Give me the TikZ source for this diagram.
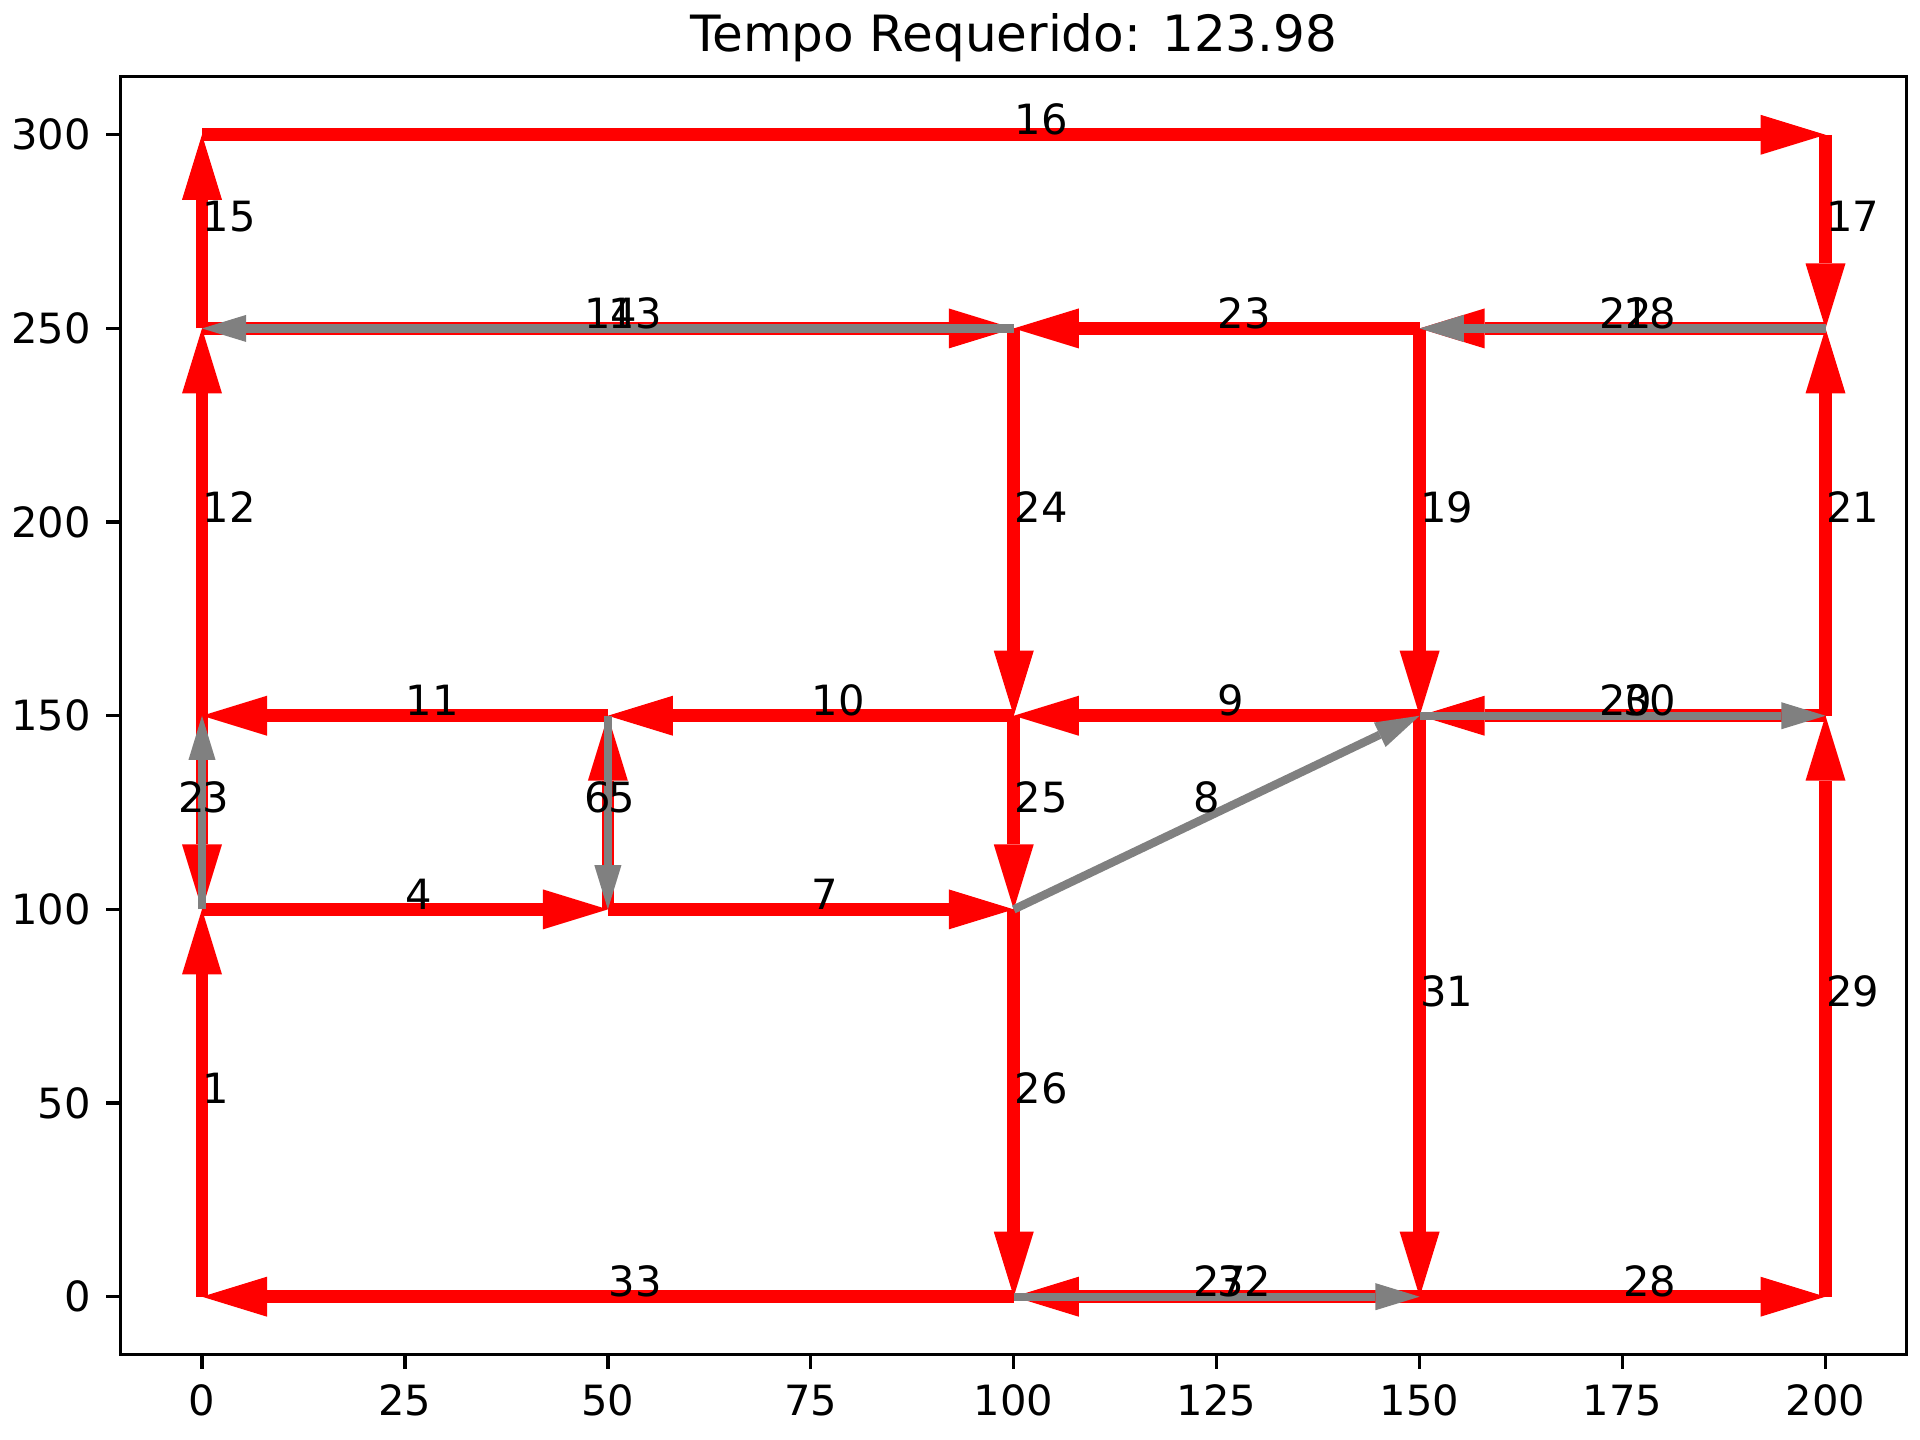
\documentclass[tikz,border=0pt]{standalone}
\usepackage{fontspec}
\setmainfont{DejaVu Sans}
\usetikzlibrary{arrows.meta}
\begin{document}
\begin{tikzpicture}[x=1.9482pt,y=0.92952pt,
  redarr/.style={draw=red, line width=3.05pt, -{Triangle[length=15.6pt,width=9.6pt,line width=0pt]}},
  grayarr/.style={draw=gray, line width=2pt, -{Triangle[length=10.6pt,width=6.5pt,line width=0pt]}},
  lbl/.style={anchor=base west, inner sep=0pt, font=\fontsize{10}{12}\selectfont},
  tickmark/.style={line width=0.8pt},
  ticklbl/.style={inner sep=0pt, font=\fontsize{10}{12}\selectfont},
]
\useasboundingbox (-24.885,-37.0) rectangle (211.64,334.81);
% nodes
\coordinate (A) at (0,0);
\coordinate (B) at (0,100);
\coordinate (C) at (0,150);
\coordinate (D) at (0,250);
\coordinate (E) at (0,300);
\coordinate (F) at (50,100);
\coordinate (G) at (50,150);
\coordinate (I) at (100,0);
\coordinate (J) at (100,100);
\coordinate (K) at (100,150);
\coordinate (L) at (100,250);
\coordinate (M) at (150,0);
\coordinate (N) at (150,150);
\coordinate (O) at (150,250);
\coordinate (P) at (200,0);
\coordinate (Q) at (200,150);
\coordinate (R) at (200,250);
\coordinate (S) at (200,300);
% red arrows
\draw[redarr] (A) -- (B);
\draw[redarr] (C) -- (B);
\draw[redarr] (B) -- (F);
\draw[redarr] (F) -- (G);
\draw[redarr] (F) -- (J);
\draw[redarr] (N) -- (K);
\draw[redarr] (K) -- (G);
\draw[redarr] (G) -- (C);
\draw[redarr] (C) -- (D);
\draw[redarr] (D) -- (L);
\draw[redarr] (D) -- (E);
\draw[redarr] (E) -- (S);
\draw[redarr] (S) -- (R);
\draw[redarr] (R) -- (O);
\draw[redarr] (O) -- (N);
\draw[redarr] (Q) -- (N);
\draw[redarr] (Q) -- (R);
\draw[redarr] (O) -- (L);
\draw[redarr] (L) -- (K);
\draw[redarr] (K) -- (J);
\draw[redarr] (J) -- (I);
\draw[redarr] (M) -- (I);
\draw[redarr] (M) -- (P);
\draw[redarr] (P) -- (Q);
\draw[redarr] (N) -- (M);
\draw[redarr] (I) -- (A);
% gray arrows
\draw[grayarr] (B) -- (C);
\draw[grayarr] (G) -- (F);
\draw[grayarr] (J) -- (N);
\draw[grayarr] (L) -- (D);
\draw[grayarr] (R) -- (O);
\draw[grayarr] (N) -- (Q);
\draw[grayarr] (I) -- (M);
% labels
\node[lbl] (l1) at (0,50) {1};
\node[lbl] (l2) at (-3,125) {2};
\node[lbl] (l3) at (0,125) {3};
\node[lbl] (l4) at (25,100) {4};
\node[lbl] (l5) at (50,125) {5};
\node[lbl] (l6) at (47,125) {6};
\node[lbl] (l7) at (75,100) {7};
\node[lbl] (l8) at (122,125) {8};
\node[lbl] (l9) at (125,150) {9};
\node[lbl] (l10) at (75,150) {10};
\node[lbl] (l11) at (25,150) {11};
\node[lbl] (l12) at (0,200) {12};
\node[lbl] (l13) at (50,250) {13};
\node[lbl] (l14) at (47,250) {14};
\node[lbl] (l15) at (0,275) {15};
\node[lbl] (l16) at (100,300) {16};
\node[lbl] (l17) at (200,275) {17};
\node[lbl] (l18) at (175,250) {18};
\node[lbl] (l19) at (150,200) {19};
\node[lbl] (l20) at (172,150) {20};
\node[lbl] (l21) at (200,200) {21};
\node[lbl] (l22) at (172,250) {22};
\node[lbl] (l23) at (125,250) {23};
\node[lbl] (l24) at (100,200) {24};
\node[lbl] (l25) at (100,125) {25};
\node[lbl] (l26) at (100,50) {26};
\node[lbl] (l27) at (122,0) {27};
\node[lbl] (l28) at (175,0) {28};
\node[lbl] (l29) at (200,75) {29};
\node[lbl] (l30) at (175,150) {30};
\node[lbl] (l31) at (150,75) {31};
\node[lbl] (l32) at (125,0) {32};
\node[lbl] (l33) at (50,0) {33};
% axes frame
\draw[line width=0.8pt] (-10,-15) rectangle (210,315);
\foreach \v in {0,25,...,200} {
  \draw[tickmark] (\v,-15) -- ([yshift=-3.5pt]\v,-15);
  \node[ticklbl, anchor=north] at ([yshift=-7pt]\v,-15) {\v};
}
\foreach \v in {0,50,...,300} {
  \draw[tickmark] (-10,\v) -- ([xshift=-3.5pt]-10,\v);
  \node[ticklbl, anchor=east] at ([xshift=-7pt]-10,\v) {\v};
}
\node[inner sep=0pt, anchor=base, font=\fontsize{12}{14}\selectfont] (title) at ([yshift=6pt]100,315) {Tempo Requerido: 123.98};
\end{tikzpicture}
\end{document}
